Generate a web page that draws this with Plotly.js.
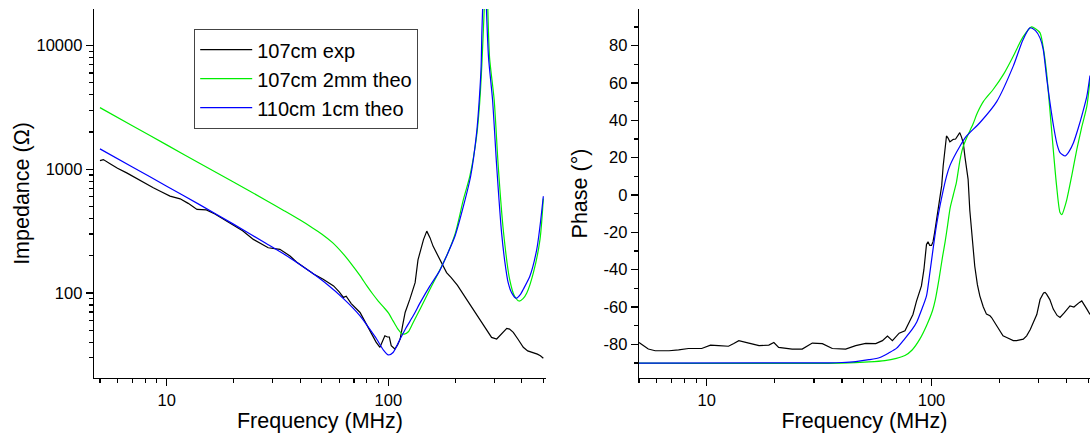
<!DOCTYPE html>
<html>
<head>
<meta charset="utf-8">
<script src="https://cdn.plot.ly/plotly-3.0.1.min.js"></script>
<style>html,body{margin:0;padding:0;background:#fff;}#chart{width:1091px;height:438px;}</style>
</head>
<body>
<div id="chart"></div>
<script>
// ---------- Impedance (left panel) ----------
const expFreqZ = [5, 5.18, 5.6, 6.0, 6.6, 7.5, 8.7, 9.5, 10.35, 11.5, 12.5, 13.7, 15.1, 16.5, 18, 20, 22, 24.6, 28.7, 32.4, 36, 38.5, 42.7, 46, 50.8, 56.6, 60, 62.7, 64.5, 68, 74.5, 80, 85, 88, 91.6, 94, 96.4, 99, 101, 103, 107, 110, 113, 116, 119, 125, 132, 136, 138.5, 144, 149, 154, 159, 166, 174, 183, 192, 205, 225, 240, 259, 275, 292, 308, 325, 342, 352, 366, 385, 406, 425, 451, 470, 485, 500];
const expZ = [1175, 1197, 1100, 1020, 935, 820, 708, 655, 606, 577, 530, 473, 469, 435, 395, 352, 318, 271, 232, 225, 199, 178, 155, 142, 129, 114, 102, 92, 94, 82, 69.5, 55, 45, 40, 36.3, 40, 45, 44, 44, 37.4, 35.2, 38, 42.4, 55, 69.5, 89, 121, 185, 212, 270, 316, 280, 239, 205, 176, 146, 133, 115, 89, 75, 61.4, 52, 43.7, 42.4, 47, 51.6, 51, 48, 42, 36.3, 34, 33, 32, 31, 29.6];

const theo2mmFreqZ = [5, 7, 10, 14, 20, 28, 34, 40, 45, 50, 56, 62.7, 68, 74.5, 80, 85, 90, 95, 100, 105, 110, 115, 118, 123, 129.4, 140, 154, 168, 183, 200, 218, 233, 250, 258, 264, 268, 270.5, 273, 276, 279, 281, 286, 300, 313, 330, 352, 370, 389, 405, 421, 451, 483, 500];
const theo2mmZ = [3150, 2250, 1575, 1125, 790, 562, 460, 388, 340, 300, 255, 206, 172, 138, 114, 98, 86, 77, 69, 59.4, 51.5, 47, 46.4, 48.5, 57.7, 76, 107, 145, 199, 300, 570, 879, 1850, 3400, 7000, 13000, 19400, 40000, 100000, 40000, 19400, 8000, 3648, 1057, 320, 130, 95, 86, 90, 100, 146, 271, 580];

const theo1cmFreqZ = [5, 7, 10, 14, 20, 28, 36, 45, 52.7, 62.7, 74.5, 83, 88.5, 95, 100, 105, 113, 120, 129.4, 140, 154, 170, 183, 200, 218, 235, 250, 257, 262, 264, 266, 269, 271.5, 274, 277, 283, 295, 308, 324, 335, 347, 360, 377, 395, 406, 435, 467, 483, 500];
const theo1cmZ = [1462, 1045, 730, 520, 360, 252, 192, 146, 118, 90, 65.3, 50, 42.4, 34.5, 31.5, 33, 42.4, 52, 65.3, 85, 114, 150, 199, 290, 503, 878, 1967, 3648, 6770, 12600, 19400, 40000, 100000, 40000, 19400, 8000, 3648, 1057, 307, 180, 121, 100, 90.6, 98, 107, 137, 225, 347, 605];

// ---------- Phase (right panel) ----------
const expFreqP = [5, 5.2, 5.5, 5.9, 6.8, 7.5, 8.3, 9.5, 10.4, 11.3, 12.5, 13.2, 13.9, 15.4, 17.1, 18.9, 19.9, 20.9, 24, 26.6, 29.5, 32.7, 36.2, 41.5, 46, 51, 56.5, 60.5, 63.7, 67, 71.8, 76.2, 80, 82.7, 85.7, 88, 90.2, 92.5, 95, 96.5, 98.2, 100, 101.6, 103.3, 107, 111, 112.7, 114.5, 116.6, 118.5, 120.7, 122.6, 125, 128, 131, 133.6, 136, 138.4, 141, 143, 145.5, 148, 150.7, 153, 155.7, 160, 164, 170, 175.6, 182, 185, 195, 208, 216, 231, 239, 256, 265, 275, 284, 294, 304, 315, 320, 325, 336, 348, 362, 373, 390, 413, 430, 443, 455, 466, 480, 491, 507];
const expPhase = [-79, -80.5, -82.5, -83.4, -83.4, -82.9, -82.2, -82.2, -80.4, -80.7, -81, -79.5, -78, -79.3, -80.7, -80.4, -79, -81.6, -82.5, -82.5, -79.3, -79.6, -82.2, -82.5, -80.7, -79.5, -79.6, -78, -75.5, -78, -74, -72.7, -68, -64, -57, -52, -48.7, -40, -26.5, -25, -27, -27, -25, -20, -7.6, 5, 15.5, 24, 31.6, 30.5, 28.5, 29, 29.8, 30, 31.5, 33.4, 31, 28, 20, 15, 8.4, -8, -20, -29, -38, -48, -54, -60, -63.8, -64.7, -65.6, -70, -75.4, -76.3, -78, -78, -77.2, -75.4, -72, -68.2, -64, -56, -52.5, -52.2, -53.1, -56, -61.1, -64.5, -65.6, -63, -59.4, -60, -58.5, -57.5, -56.7, -59, -61.1, -64];

const theo2mmFreqP = [5, 40, 52.7, 62, 69.8, 76.2, 82, 88.7, 95, 101, 104, 108, 112, 115, 118, 121, 125, 129, 134, 138.4, 145, 153, 160, 170, 188, 210, 231, 255, 279, 290, 304, 315, 325, 336, 348, 360, 373, 380, 390, 400, 420, 443, 465, 491, 507];
const theo2mmPhase = [-90, -90, -89.4, -88.7, -87.5, -86, -83, -77.2, -70, -62, -56, -45, -33, -25, -16, -7, 0, 6.6, 19, 26, 32, 38, 44, 50, 56.5, 65, 74.3, 84.5, 90, 89, 86.8, 78, 65.5, 46, 24.4, 5, -9.4, -10.5, -7, -2.3, 10, 24.4, 36, 47.6, 62];

const theo1cmFreqP = [5, 35, 40, 46, 52.7, 58.9, 64.7, 70, 76, 82, 86, 90, 95, 98, 101.6, 105, 109, 116.6, 121, 133.6, 143, 164, 195, 231, 255, 274, 290, 304, 314, 325, 336, 350, 362, 373, 393, 410, 428, 450, 470, 491, 507];
const theo1cmPhase = [-90, -89.9, -89.7, -89.2, -88.2, -87, -84.5, -82, -77, -72, -68, -62, -54, -43, -29, -17, -6, 10, 16, 26, 31.5, 38.7, 50, 69, 83, 89.5, 88, 84, 78, 63, 50, 36, 27, 22.7, 20.9, 23.5, 28, 36, 44, 53, 64];

const seriesNames = ['107cm exp', '107cm 2mm theo', '110cm 1cm theo'];
const seriesColors = ['#000000', '#00ee00', '#0000ff'];

const lw = 1.2;
const theoLine = (c) => ({color: c, width: lw, shape: 'spline', smoothing: 0.7});
const traces = [
  {x: expFreqZ, y: expZ, name: seriesNames[0], xaxis: 'x', yaxis: 'y', mode: 'lines', line: {color: seriesColors[0], width: lw}},
  {x: theo2mmFreqZ, y: theo2mmZ, name: seriesNames[1], xaxis: 'x', yaxis: 'y', mode: 'lines', line: theoLine(seriesColors[1])},
  {x: theo1cmFreqZ, y: theo1cmZ, name: seriesNames[2], xaxis: 'x', yaxis: 'y', mode: 'lines', line: theoLine(seriesColors[2])},
  {x: expFreqP, y: expPhase, name: seriesNames[0], xaxis: 'x2', yaxis: 'y2', mode: 'lines', showlegend: false, line: {color: seriesColors[0], width: lw}},
  {x: theo2mmFreqP, y: theo2mmPhase, name: seriesNames[1], xaxis: 'x2', yaxis: 'y2', mode: 'lines', showlegend: false, line: theoLine(seriesColors[1])},
  {x: theo1cmFreqP, y: theo1cmPhase, name: seriesNames[2], xaxis: 'x2', yaxis: 'y2', mode: 'lines', showlegend: false, line: theoLine(seriesColors[2])}
];

const xMajor = [10, 100];
const xMinor = [5, 6, 7, 8, 9, 20, 30, 40, 50, 60, 70, 80, 90, 200, 300, 400, 500];
const zMajor = [100, 1000, 10000];
const zMinor = [30, 40, 50, 60, 70, 80, 90, 200, 300, 400, 500, 600, 700, 800, 900, 2000, 3000, 4000, 5000, 6000, 7000, 8000, 9000];
const phaseMajor = [-80, -60, -40, -20, 0, 20, 40, 60, 80];
const phaseMinor = [-90, -70, -50, -30, -10, 10, 30, 50, 70, 90];

const font = 'Liberation Sans, Arial, sans-serif';
function axisBase() {
  return {
    showline: true, linecolor: '#000', linewidth: 1.3, mirror: false,
    ticks: 'outside', ticklen: 7, tickwidth: 1.2, tickcolor: '#000',
    showgrid: false, zeroline: false,
    tickfont: {family: font, size: 16.5, color: '#000'},
    title: {font: {family: font, size: 21.5, color: '#000'}}
  };
}
const minorCfg = (vals) => ({tickmode: 'array', tickvals: vals, ticks: 'outside', ticklen: 4, tickwidth: 1.2, tickcolor: '#000', showgrid: false});

const W = 1091, H = 438;
const xa = Object.assign(axisBase(), {
  type: 'log', range: [Math.log10(4.7), Math.log10(514)], domain: [94 / W, 546 / W], anchor: 'y',
  tickmode: 'array', tickvals: xMajor, ticktext: xMajor.map(String), minor: minorCfg(xMinor)
});
xa.title.text = 'Frequency (MHz)'; xa.title.standoff = 5;
const ya = Object.assign(axisBase(), {
  type: 'log', range: [1.312, 4.296], domain: [1 - 378 / H, 1 - 9 / H], anchor: 'x',
  tickmode: 'array', tickvals: zMajor, ticktext: zMajor.map(String), minor: minorCfg(zMinor)
});
ya.title.text = 'Impedance (Ω)'; ya.title.standoff = 1;
const xa2 = Object.assign(axisBase(), {
  type: 'log', range: [Math.log10(5), Math.log10(507)], domain: [639 / W, 1090 / W], anchor: 'y2',
  tickmode: 'array', tickvals: xMajor, ticktext: xMajor.map(String), minor: minorCfg(xMinor)
});
xa2.title.text = 'Frequency (MHz)'; xa2.title.standoff = 5;
const ya2 = Object.assign(axisBase(), {
  range: [-98, 99.6], domain: [1 - 378 / H, 1 - 9 / H], anchor: 'x2',
  tickmode: 'array', tickvals: phaseMajor, ticktext: phaseMajor.map(String), minor: minorCfg(phaseMinor)
});
ya2.title.text = 'Phase (°)'; ya2.title.standoff = 10;

const layout = {
  width: W, height: H,
  margin: {l: 0, r: 0, t: 0, b: 0},
  paper_bgcolor: '#fff', plot_bgcolor: '#fff',
  font: {family: font, color: '#000'},
  xaxis: xa, yaxis: ya, xaxis2: xa2, yaxis2: ya2,
  showlegend: true,
  legend: {
    x: 194 / W, y: 1 - 29 / H, xanchor: 'left', yanchor: 'top', xref: 'paper', yref: 'paper',
    bgcolor: '#fff', bordercolor: '#444', borderwidth: 1.2,
    font: {family: font, size: 20, color: '#000'},
    itemwidth: 52, tracegroupgap: 0
  }
};

Plotly.newPlot('chart', traces, layout, {staticPlot: true, displayModeBar: false});
</script>
</body>
</html>
